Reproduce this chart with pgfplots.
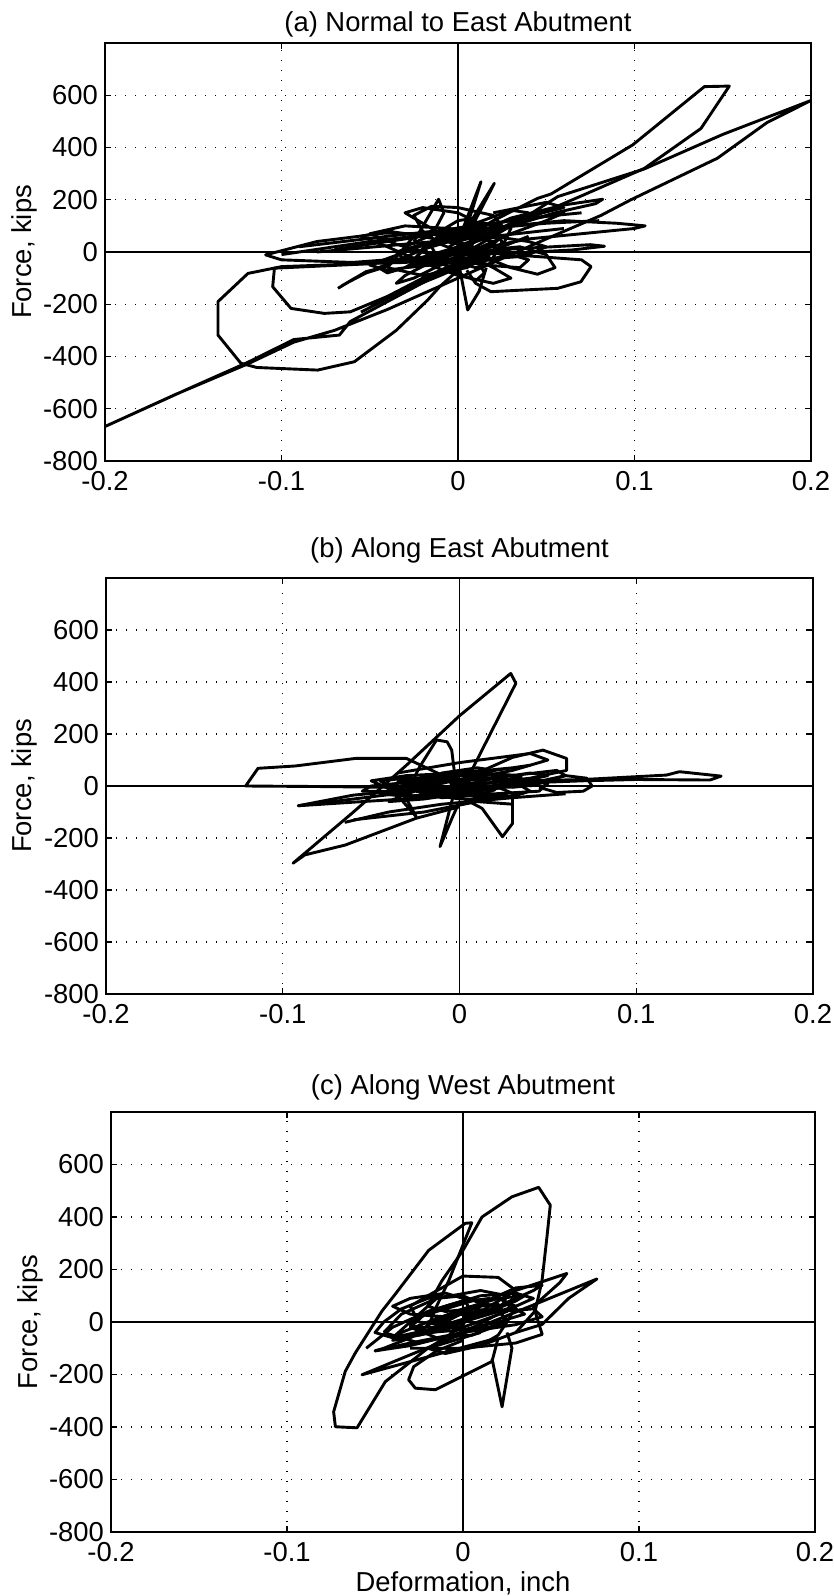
\documentclass[border=0pt]{standalone}
\usepackage{fontspec}
\setmainfont{Liberation Sans}
\usepackage{pgfplots}
\pgfplotsset{compat=1.18}

\newcommand\lbl{\fontsize{13.7}{16}\selectfont}

\pgfplotsset{
  hyst/.style={
    scale only axis,
    xmin=-0.2, xmax=0.2, ymin=-800, ymax=800,
    xtick={-0.2,-0.1,0,0.1,0.2},
    xticklabels={-0.2,-0.1,0,0.1,0.2},
    ytick={-800,-600,-400,-200,0,200,400,600},
    yticklabels={-800,-600,-400,-200,0,200,400,600},
    grid=major,
    grid style={black, line width=0.7pt, dash pattern=on 0.7pt off 4.3pt},
    axis line style={line width=0.9pt},
    tick align=inside, major tick length=3pt,
    tick style={black, line width=0.7pt},
    every tick label/.append style={font=\lbl},
    x tick label style={yshift=-1.6pt},
    title style={font=\lbl},
    ylabel={Force, kips},
    ylabel style={font=\lbl, at={(axis description cs:-0.1147,0.5)}, anchor=center},
    clip=true,
  },
  loop/.style={black, line width=1.45pt, line join=round, mark=none},
  zero/.style={black, line width=0.6pt, mark=none},
}

\begin{document}
\begin{tikzpicture}
\useasboundingbox (0,0) rectangle (417pt,-798pt);

% ---------------- (a) Normal to East Abutment ----------------
\begin{axis}[hyst, at={(52.5pt,-230.5pt)}, anchor=south west,
  width=353pt, height=209pt,
  title={(a) Normal to East Abutment}, title style={yshift=-6.4pt}]
\addplot[zero] coordinates {(-0.2,0) (0.2,0)};
\addplot[zero] coordinates {(0,-800) (0,800)};
% long excursions to the corners
\addplot[loop] coordinates {(0.010,20) (0.035,120) (0.0565,212) (0.1056,318) (0.150,450) (0.200,580) (0.175,495) (0.147,359) (0.0977,199) (0.081,140) (0.050,50) (0.020,-40) (-0.010,-130) (-0.040,-220) (-0.070,-300) (-0.093,-345) (-0.119,-428) (-0.160,-545) (-0.200,-668) (-0.150,-515) (-0.119,-422) (-0.093,-335) (-0.0672,-318) (-0.061,-266) (-0.040,-190) (-0.015,-100) (0.000,-40)};
% upper finger
\addplot[loop] coordinates {(-0.005,20) (0.020,120) (0.045,205) (0.0527,222) (0.099,410) (0.1396,633) (0.1537,635) (0.1377,473) (0.1056,320) (0.070,215) (0.047,148) (0.020,70) (0.000,10)};
% large left loops
\addplot[loop] coordinates {(0.010,-20) (-0.030,-40) (-0.060,-46) (-0.100,-56) (-0.119,-82) (-0.136,-190) (-0.136,-318) (-0.123,-426) (-0.114,-442) (-0.0795,-452) (-0.0587,-420) (-0.035,-300) (-0.0172,-184) (-0.0104,-133) (0.000,-70) (0.010,-30)};
\addplot[loop] coordinates {(0.000,-10) (-0.050,-45) (-0.104,-62) (-0.105,-133) (-0.0946,-216) (-0.0757,-235) (-0.061,-229) (-0.040,-170) (-0.020,-100) (0.000,-40)};
\addplot[loop] coordinates {(0.020,60) (-0.020,70) (-0.042,72) (-0.080,40) (-0.109,-11) (-0.100,-30) (-0.060,-40) (-0.020,-20) (0.010,10) (0.040,50) (0.070,70) (0.100,90) (0.106,100) (0.090,110) (0.060,120) (0.030,100) (0.000,70)};
\addplot[loop] coordinates {(-0.068,-139) (-0.062,-115) (-0.052,-80) (-0.040,-55) (-0.052,-75) (-0.066,-130)};
% right side loops
\addplot[loop] coordinates {(0.000,40) (0.030,130) (0.060,180) (0.082,202) (0.078,185) (0.055,150) (0.025,90) (0.000,40)};
\addplot[loop] coordinates {(0.000,0) (0.040,15) (0.075,28) (0.083,22) (0.065,8) (0.030,-5) (0.000,-10)};
\addplot[loop] coordinates {(0.010,-30) (0.040,-15) (0.070,-30) (0.0754,-56) (0.0696,-114) (0.0565,-139) (0.0357,-146) (0.0187,-152) (0.010,-120) (0.005,-70)};
\addplot[loop] coordinates {(0.015,-20) (0.030,-60) (0.045,-85) (0.055,-60) (0.050,-10) (0.035,20) (0.020,10)};
\addplot[loop] coordinates {(0.000,-30) (0.0055,-222) (0.012,-150) (0.016,-60)};
\addplot[loop] coordinates {(0.000,40) (0.013,269) (0.008,160) (0.004,80) (0.0206,263) (0.012,150) (0.005,60)};
\addplot[loop] coordinates {(-0.025,40) (-0.011,202) (-0.008,150) (-0.015,60)};
\addplot[loop] coordinates {(-0.090,20) (-0.040,60) (0.000,90) (0.040,130) (0.070,150)};
\addplot[loop] coordinates {(-0.080,0) (-0.030,30) (0.020,60) (0.060,90)};
\addplot[loop] coordinates {(-0.100,-10) (-0.050,40) (0.000,80) (0.050,110) (0.080,120)};
\addplot[loop] coordinates {(-0.070,10) (-0.020,60) (0.030,120) (0.060,170) (0.050,190) (0.020,150)};
\addplot[loop] coordinates {(-0.055,-230) (-0.020,-110) (0.010,-20) (0.040,60)};
\addplot[loop] coordinates {(-0.050,-200) (-0.010,-90) (0.020,0)};
% dense centre
\addplot[loop] coordinates {(0.000,0) (0.015,60) (0.030,110) (0.040,150) (0.030,160) (0.010,110) (-0.010,40) (-0.030,-20) (-0.045,-60) (-0.040,-80) (-0.020,-40) (0.000,20) (0.020,80) (0.045,130) (0.060,150) (0.050,120) (0.030,70) (0.010,10) (-0.010,-50) (-0.025,-100) (-0.035,-120) (-0.030,-90) (-0.010,-20) (0.010,40) (0.025,100) (0.020,140) (0.000,170) (-0.015,175) (-0.025,140) (-0.020,80) (-0.010,30) (0.005,-10) (0.020,-60) (0.030,-100) (0.020,-120) (0.000,-90) (-0.020,-40) (-0.040,20) (-0.055,60) (-0.040,80) (-0.020,60) (0.000,30) (0.025,0) (0.040,-30) (0.035,-60) (0.015,-50) (-0.010,-20) (-0.035,30) (-0.050,70) (-0.030,100) (-0.005,90) (0.020,60) (0.040,40) (0.050,20) (0.040,-10) (0.010,-30) (-0.020,-50) (-0.040,-70) (-0.050,-50) (-0.030,0) (-0.010,50) (0.005,100) (0.010,130) (0.000,120) (-0.010,80) (-0.015,20) (-0.010,-40) (0.000,-80) (0.010,-110) (0.015,-80) (0.010,-20) (0.000,30) (-0.020,110) (-0.030,150) (-0.020,170) (0.000,150) (0.015,100) (0.025,40) (0.020,-20)};
\addplot[loop] coordinates {(0.000,-20) (-0.015,-50) (-0.030,-60) (-0.020,-20) (0.000,20) (0.015,50) (0.025,60) (0.020,30) (0.005,-10) (-0.010,-40) (-0.025,-30) (-0.020,10) (-0.005,40) (0.010,70) (0.020,90) (0.010,80) (-0.005,50) (-0.020,30) (-0.035,0) (-0.030,-30) (-0.010,-20) (0.005,10) (0.020,20) (0.030,0) (0.020,-30) (0.000,-40) (-0.015,-20) (-0.020,20) (-0.010,60) (0.000,80) (0.010,50) (0.005,0) (-0.005,-30) (0.010,-60) (0.020,-40) (0.015,0) (0.000,40) (-0.015,70) (-0.025,60) (-0.030,20) (-0.015,-10) (0.000,0)};
\addplot[loop] coordinates {(-0.040,-60) (-0.030,20) (-0.010,80) (0.015,110) (0.030,90) (0.025,20) (0.005,-60) (-0.020,-90) (-0.040,-60)};
\addplot[loop] coordinates {(-0.025,-30) (-0.015,40) (0.005,60) (0.020,40) (0.010,-20) (-0.010,-50) (-0.025,-30)};
\end{axis}

% ---------------- (b) Along East Abutment ----------------
\begin{axis}[hyst, at={(53pt,-497pt)}, anchor=south west,
  width=353.5pt, height=208pt,
  title={(b) Along East Abutment}, title style={yshift=-2.3pt}]
\addplot[zero] coordinates {(-0.2,0) (0.2,0)};
\addplot[zero] coordinates {(0,-800) (0,800)};
\addplot[loop] coordinates {(0.000,10) (-0.030,106) (-0.0589,106) (-0.093,77) (-0.114,68) (-0.121,0) (-0.080,-2) (-0.040,-5) (0.000,-2)};
\addplot[loop] coordinates {(0.000,-80) (-0.0245,-124) (-0.0646,-227) (-0.0875,-265) (-0.0942,-297) (-0.060,-100) (-0.030,80) (0.000,270) (0.029,433) (0.0319,395) (0.0061,49) (0.000,0)};
\addplot[loop] coordinates {(-0.030,-50) (-0.0245,-118) (-0.032,-60) (-0.025,40) (-0.0225,74) (-0.013,177) (-0.007,170) (-0.0044,138) (-0.003,60) (0.000,0)};
\addplot[loop] coordinates {(-0.004,-50) (-0.011,-233) (-0.004,-120) (0.000,-60)};
\addplot[loop] coordinates {(0.000,-40) (0.0128,-86) (0.0243,-195) (0.030,-144) (0.030,-28) (0.020,0)};
\addplot[loop] coordinates {(-0.020,-10) (-0.060,-35) (-0.0913,-76) (-0.055,-60) (-0.020,-45) (0.000,-30)};
\addplot[loop] coordinates {(-0.0913,-76) (-0.060,-50) (-0.030,-25)};
\addplot[loop] coordinates {(0.000,20) (0.030,110) (0.0472,138) (0.0606,106) (0.0606,60) (0.040,30) (0.000,0)};
\addplot[loop] coordinates {(-0.035,50) (0.000,90) (0.040,125) (0.050,100) (0.030,60) (0.000,20)};
\addplot[loop] coordinates {(0.040,20) (0.070,25) (0.117,42) (0.1245,55) (0.148,38) (0.1417,23) (0.100,25) (0.070,20) (0.030,10)};
\addplot[loop] coordinates {(0.040,0) (0.060,40) (0.072,30) (0.075,0) (0.070,-20) (0.055,-25) (0.045,-5)};
\addplot[loop] coordinates {(-0.065,-140) (-0.040,-100) (-0.010,-70) (0.030,-45) (0.060,-30)};
\addplot[loop] coordinates {(-0.060,-130) (-0.020,-100) (0.010,-60) (0.030,-70)};
\addplot[loop] coordinates {(0.000,0) (0.020,30) (0.040,50) (0.050,40) (0.030,10) (0.000,-20) (-0.030,-40) (-0.045,-30) (-0.030,0) (0.000,20) (0.030,40) (0.055,60) (0.060,40) (0.040,10) (0.010,-20) (-0.020,-50) (-0.040,-60) (-0.030,-30) (-0.010,10) (0.010,40) (0.020,60) (0.010,70) (-0.010,50) (-0.020,20) (-0.010,-20) (0.010,-40) (0.030,-40) (0.040,-20) (0.030,20) (0.010,30) (-0.020,20) (-0.050,0) (-0.055,-20) (-0.030,-20) (0.000,0) (0.030,20) (0.050,10) (0.045,-20) (0.020,-30) (-0.010,-30) (-0.040,-10) (-0.050,20) (-0.030,40) (0.000,50) (0.030,70) (0.040,80) (0.020,60) (-0.010,30) (-0.030,0) (-0.020,-30) (0.000,-50) (0.020,-50) (0.010,-20) (0.000,10)};
\addplot[loop] coordinates {(0.000,0) (-0.015,-20) (-0.030,-15) (-0.020,10) (0.000,25) (0.020,30) (0.030,15) (0.015,-5) (-0.005,-15) (-0.025,-5) (-0.035,15) (-0.020,35) (0.000,40) (0.025,45) (0.035,30) (0.025,5) (0.000,-10) (-0.020,-30) (-0.010,-45) (0.010,-35) (0.020,-15) (0.010,10) (-0.010,20) (-0.030,30) (-0.045,20) (-0.040,0) (-0.020,-10) (0.005,5) (0.030,-5) (0.045,5) (0.035,25) (0.010,30) (-0.005,10) (0.000,0)};
\addplot[loop] coordinates {(-0.040,-20) (-0.020,30) (0.010,50) (0.035,40) (0.030,0) (0.000,-30) (-0.025,-40) (-0.040,-20)};
\end{axis}

% ---------------- (c) Along West Abutment ----------------
\begin{axis}[hyst, at={(55.5pt,-766pt)}, anchor=south west,
  width=352pt, height=210pt,
  title={(c) Along West Abutment}, title style={yshift=-3.8pt},
  xlabel={Deformation, inch},
  xlabel style={font=\lbl, at={(axis description cs:0.5,-0.1214)}, anchor=center}]
\addplot[zero] coordinates {(-0.2,0) (0.2,0)};
\addplot[zero] coordinates {(0,-800) (0,800)};
\addplot[loop] coordinates {(-0.040,-60) (-0.020,60) (-0.012,157) (0.000,273) (0.0108,400) (0.0278,477) (0.043,513) (0.0496,445) (0.0477,324) (0.0449,157) (0.041,42) (0.030,-40) (0.010,-90) (-0.010,-110)};
\addplot[loop] coordinates {(0.010,-40) (-0.020,-100) (-0.0441,-227) (-0.0602,-403) (-0.0725,-399) (-0.0735,-342) (-0.0669,-188) (-0.0612,-118) (-0.046,42) (-0.0385,106) (-0.0195,273) (0.0013,376) (0.005,378) (-0.0081,157) (-0.015,60) (-0.020,-20)};
\addplot[loop] coordinates {(0.020,-60) (0.0165,-150) (-0.0157,-258) (-0.0271,-252) (-0.0309,-220) (-0.028,-170) (-0.015,-110) (0.000,-70)};
\addplot[loop] coordinates {(0.0165,-140) (0.0222,-323) (0.0278,-99) (0.025,-40)};
\addplot[loop] coordinates {(0.020,-60) (-0.0574,-201) (-0.030,-125) (0.000,-44) (0.040,65) (0.0761,164) (0.060,90) (0.045,-9) (0.030,-40)};
\addplot[loop] coordinates {(0.000,0) (0.030,120) (0.059,185) (0.055,150) (0.040,60) (0.045,-47) (0.030,-80) (0.000,-100) (-0.030,-100)};
\addplot[loop] coordinates {(-0.030,60) (-0.020,100) (0.000,175) (0.020,170) (0.030,120) (0.025,40) (0.000,-20) (-0.025,0) (-0.030,60)};
\addplot[loop] coordinates {(-0.055,-100) (-0.040,-20) (-0.020,40) (0.000,80)};
\addplot[loop] coordinates {(-0.050,-110) (-0.030,-80) (0.000,-40)};
\addplot[loop] coordinates {(0.000,0) (0.015,40) (0.030,80) (0.035,100) (0.020,90) (0.000,50) (-0.020,0) (-0.035,-40) (-0.040,-70) (-0.025,-50) (-0.005,-10) (0.015,30) (0.030,60) (0.040,90) (0.030,110) (0.010,100) (-0.010,60) (-0.025,20) (-0.030,-10) (-0.020,-40) (0.000,-30) (0.020,0) (0.035,30) (0.030,50) (0.010,40) (-0.010,20) (-0.030,30) (-0.040,60) (-0.030,90) (-0.010,110) (0.000,90) (0.005,40) (0.000,-10) (-0.010,-60) (-0.020,-100) (-0.010,-120) (0.010,-90) (0.020,-50) (0.025,0) (0.020,50) (0.010,80) (-0.005,100) (-0.020,90) (-0.035,50) (-0.045,0) (-0.050,-40) (-0.040,-60) (-0.020,-30) (0.000,10) (0.020,60) (0.040,120) (0.045,140) (0.030,130) (0.010,70) (-0.010,0) (-0.030,-60) (-0.045,-100) (-0.050,-110) (-0.030,-90) (0.000,-40) (0.030,-10) (0.045,20) (0.040,50) (0.020,40) (0.000,20)};
\addplot[loop] coordinates {(0.000,0) (-0.010,-30) (-0.025,-50) (-0.020,-10) (-0.005,30) (0.010,60) (0.020,70) (0.015,40) (0.000,10) (-0.015,-20) (-0.030,-20) (-0.025,20) (-0.010,50) (0.005,80) (0.015,90) (0.010,60) (-0.005,20) (-0.015,-10) (0.000,-30) (0.015,-20) (0.025,10) (0.020,40) (0.005,50) (-0.010,40) (-0.020,60) (-0.015,90) (0.000,100) (0.010,70) (0.005,20) (-0.005,-10) (0.000,0)};
\addplot[loop] coordinates {(-0.030,-20) (-0.020,40) (0.000,80) (0.020,90) (0.030,60) (0.025,0) (0.005,-50) (-0.015,-60) (-0.030,-20)};
\addplot[loop] coordinates {(-0.045,-40) (-0.035,30) (-0.015,90) (0.010,120) (0.025,100) (0.020,30) (0.000,-40) (-0.025,-80) (-0.045,-40)};
\end{axis}
\end{tikzpicture}
\end{document}
